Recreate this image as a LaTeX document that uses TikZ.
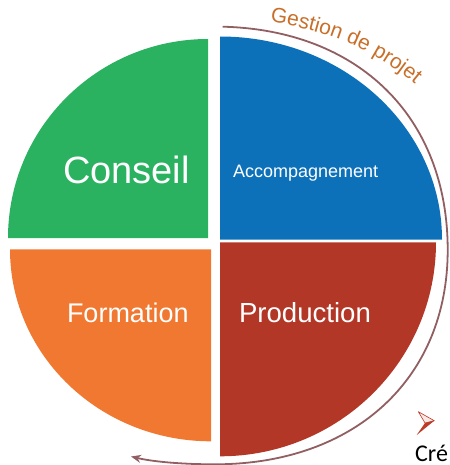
\documentclass[tikz,border=0pt]{standalone}
\usepackage{fontspec}
\setmainfont{Liberation Sans}
\newfontfamily\calibfont{Carlito}
\usetikzlibrary{arrows.meta,decorations.text}
\definecolor{cgreen}{RGB}{43,178,97}
\definecolor{cblue}{RGB}{12,113,185}
\definecolor{corange}{RGB}{240,120,48}
\definecolor{cred}{RGB}{178,55,38}
\definecolor{carc}{RGB}{145,95,98}
\definecolor{ctext}{RGB}{200,110,40}
\definecolor{cbullet}{RGB}{190,58,40}
\tikzset{
  lbl/.style={text=white, anchor=base west, inner sep=0pt, outer sep=0pt},
  ringarrow/.style={draw=carc, line width=1.8pt, -{Stealth[length=10pt,width=8pt]}}
}
\begin{document}
\begin{tikzpicture}[x=1pt,y=-1pt]
\useasboundingbox (0,0) rectangle (449,465);
% quadrants
\fill[cgreen] (208,238) -- (8,238) arc[start angle=180,end angle=270,x radius=200,y radius=199] -- cycle;
\fill[cblue] (220,239.5) -- (220,36.5) arc[start angle=270,end angle=360,x radius=222,y radius=203] -- cycle;
\fill[corange] (211,249.3) -- (10,249.3) arc[start angle=180,end angle=90,x radius=201,y radius=192] -- cycle;
\fill[cred] (220,242.3) -- (436,242.3) arc[start angle=0,end angle=90,x radius=216,y radius=214] -- cycle;
% labels
\node[lbl, font=\fontsize{38}{38}\selectfont] (conseil) at (63,183) {Conseil};
\node[lbl, font=\fontsize{18}{18}\selectfont] (accomp) at (233,177) {Accompagnement};
\node[lbl, font=\fontsize{27}{27}\selectfont] (formation) at (67,322) {Formation};
\node[lbl, font=\fontsize{27.6}{27.6}\selectfont] (production) at (239,322) {Production};
% surrounding arc
\coordinate (arcstart) at (222.7,26.7);
\coordinate (arcright) at (447.7,250);
\coordinate (arcbottom) at (215,464.3);
\coordinate (arcend) at (131,456.5);
\draw[ringarrow] (arcstart) .. controls (357.7,30) and (447.7,116) .. (arcright)
  .. controls (447.7,378.6) and (354.6,464.3) .. (arcbottom)
  .. controls (180,464.3) and (152,461.5) .. (arcend);
% curved title
\path[decorate, decoration={text along path, text align=left,
  text={|\fontsize{21}{21}\selectfont\color{ctext}|Gestion de projet}}]
  (270,22) .. controls (335,32) and (382,52) .. (434,101);
% bullet
\filldraw[draw=cbullet, fill=cbullet!12, line width=0.6pt, line join=round]
  (418.3,411.7) -- (434.3,420.7) -- (425,423) -- cycle;
\fill[cbullet] (425,423) -- (434.3,420.7) -- (416.7,435) -- cycle;
\node[anchor=base west, inner sep=0pt, font=\calibfont\fontsize{24}{24}\selectfont] (cre) at (415,461.5) {Cré};
\end{tikzpicture}
\end{document}
